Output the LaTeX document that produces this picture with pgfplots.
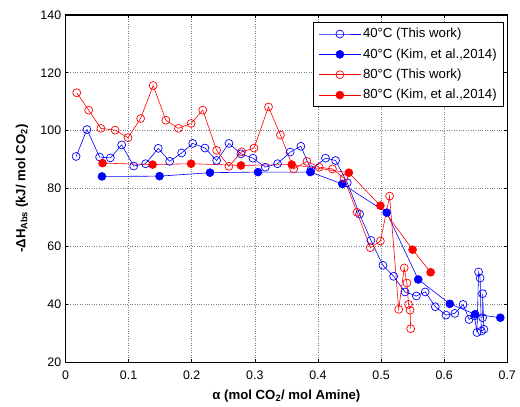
\documentclass[border=0pt]{standalone}
\usepackage{pgfplots}
\pgfplotsset{compat=1.18}
\usepackage{fontspec}
\setmainfont{Liberation Sans}
\begin{document}
\fontsize{12.5}{15}\selectfont
\begin{tikzpicture}
\begin{axis}[name=ax,
  scale only axis, width=445pt, height=350pt,
  xmin=0, xmax=0.7, ymin=20, ymax=140,
  xtick={0,0.1,...,0.7}, ytick={20,40,...,140},
  xticklabels={0,0.1,0.2,0.3,0.4,0.5,0.6,0.7},
  tick align=inside, major tick length=3pt,
  tick style={black, line width=0.6pt},
  axis line style={black, line width=1.4pt},
  grid=major, major grid style={dotted, gray, line width=0.6pt},
  /pgf/number format/assume math mode=true,
  ticklabel style={font=\fontsize{12.5}{15}\selectfont},
  xticklabel style={yshift=-4pt},
  xlabel={\bfseries α (mol CO\textsubscript{2}/ mol Amine)},
  ylabel={\bfseries -ΔH\textsubscript{Abs} (kJ/ mol CO\textsubscript{2})},
  label style={font=\fontsize{13.3}{16}\selectfont},
  xlabel style={yshift=-2pt},
  ylabel style={yshift=4pt},
  legend style={at={(rel axis cs:0.993,0.98)}, anchor=north east, draw=black, line width=1pt,
    font=\fontsize{13.3}{16}\selectfont, row sep=5pt, inner xsep=5pt, inner ysep=4pt, cells={anchor=west}},
  legend image code/.code={\draw[mark repeat=2,mark phase=2,line width=0.6pt] plot coordinates {(0pt,0pt)(21pt,0pt)(42pt,0pt)};},
  every axis plot/.append style={line width=0.6pt, mark size=4pt},
]
\addplot[blue, mark=o, mark options={line width=0.7pt}] coordinates {
(0.0168,91.1)(0.034,100.4)(0.054,90.9)(0.071,90.6)(0.089,95.1)(0.108,87.8)(0.127,88.6)
(0.147,93.9)(0.165,89.4)(0.184,92.3)(0.2016,95.6)(0.221,94.0)(0.2395,89.7)(0.259,95.6)
(0.278,92.0)(0.297,90.5)(0.3165,87.4)(0.336,88.6)(0.356,92.6)(0.373,94.6)(0.389,86.5)
(0.412,90.5)(0.428,89.7)(0.4465,82.0)(0.466,71.2)(0.484,62.1)(0.503,53.5)(0.52,49.7)
(0.538,44.3)(0.556,42.9)(0.570,44.3)(0.586,39.2)(0.603,36.3)(0.617,36.9)(0.630,40.0)
(0.6395,34.8)(0.648,36.0)(0.652,30.3)(0.6546,51.2)(0.657,49.1)(0.659,30.8)(0.663,31.4)
(0.661,43.7)(0.661,35.4)};
\addlegendentry{40°C (This work)}
\addplot[blue, mark=*, mark options={fill=blue}] coordinates {
(0.0577,84.2)(0.149,84.3)(0.229,85.5)(0.305,85.7)(0.388,85.7)(0.4387,81.6)(0.509,71.7)
(0.559,48.6)(0.609,40.2)(0.649,36.6)(0.689,35.4)};
\addlegendentry{40°C (Kim, et al.,2014)}
\addplot[red, mark=o, mark options={line width=0.7pt}] coordinates {
(0.0178,113.1)(0.0367,107.1)(0.056,100.8)(0.0786,100.2)(0.099,97.6)(0.119,104.2)(0.1389,115.6)
(0.159,103.6)(0.179,100.8)(0.199,102.5)(0.2175,107.1)(0.2395,93.2)(0.259,87.7)(0.279,92.7)
(0.2987,94.0)(0.3217,108.2)(0.3406,98.5)(0.3616,86.8)(0.3826,89.4)(0.402,87.4)(0.423,86.8)
(0.4413,83.6)(0.462,71.8)(0.483,59.6)(0.499,61.9)(0.5136,77.4)(0.528,38.3)(0.5367,52.6)
(0.541,47.4)(0.5436,40.0)(0.546,38.0)(0.547,31.6)};
\addlegendentry{80°C (This work)}
\addplot[red, mark=*, mark options={fill=red}] coordinates {
(0.0587,88.8)(0.138,88.3)(0.199,88.6)(0.278,88.0)(0.3585,88.3)(0.449,85.5)(0.499,74.1)
(0.550,58.9)(0.5786,51.1)};
\addlegendentry{80°C (Kim, et al.,2014)}
\end{axis}
\path ([shift={(-66pt,-41pt)}]ax.south west) rectangle ([shift={(9pt,15pt)}]ax.north east);
\end{tikzpicture}
\end{document}
